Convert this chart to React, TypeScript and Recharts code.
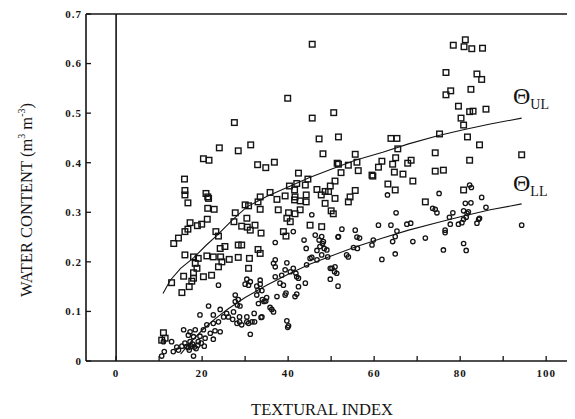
import React from 'react';
import { ScatterChart, Scatter, XAxis, YAxis, ReferenceLine } from 'recharts';

// upper limit (squares) as [textural index, water content]
const upperPoints: [number, number][] = [
  [45.6, 0.639], [39.9, 0.53], [45.6, 0.49], [50.6, 0.501], [27.5, 0.481], [47.2, 0.448], [51.7, 0.452],
  [48.1, 0.418], [24.0, 0.43], [28.4, 0.424], [31.3, 0.436], [20.3, 0.408], [21.6, 0.405], [32.9, 0.396],
  [34.8, 0.39], [36.8, 0.401], [15.9, 0.367], [16.0, 0.344], [16.0, 0.335], [16.7, 0.319], [20.9, 0.338],
  [21.3, 0.331], [42.4, 0.379], [51.4, 0.399], [52.3, 0.38], [44.6, 0.367], [42.0, 0.358], [44.0, 0.355],
  [40.3, 0.353], [46.7, 0.346], [49.8, 0.353], [50.9, 0.363], [49.4, 0.342], [54.0, 0.395], [33.5, 0.331],
  [35.8, 0.34], [41.6, 0.331], [44.2, 0.335],
  [78.4, 0.637], [81.2, 0.648], [80.9, 0.634], [82.7, 0.63], [85.2, 0.631], [76.7, 0.582], [83.9, 0.579],
  [85.0, 0.568], [82.5, 0.548], [77.8, 0.545], [76.7, 0.537], [79.6, 0.514], [82.2, 0.503], [83.0, 0.504],
  [86.0, 0.508], [80.2, 0.49], [80.8, 0.476], [75.2, 0.458], [81.7, 0.452], [84.5, 0.436], [94.3, 0.416],
  [74.2, 0.42], [82.2, 0.405], [63.9, 0.449], [65.3, 0.449], [65.5, 0.428], [55.6, 0.417], [56.0, 0.401],
  [56.3, 0.384], [51.7, 0.397], [61.8, 0.403], [61.0, 0.391], [59.5, 0.375], [65.0, 0.41], [64.3, 0.397],
  [64.7, 0.381], [66.7, 0.377], [68.6, 0.405], [67.8, 0.399], [69.0, 0.363], [74.2, 0.383], [76.1, 0.385],
  [63.2, 0.357], [64.9, 0.345], [55.6, 0.344], [80.8, 0.345], [54.0, 0.321], [54.4, 0.331], [71.9, 0.321],
  [59.7, 0.373],
  [21.5, 0.328], [21.3, 0.308], [22.8, 0.306], [21.2, 0.286], [19.9, 0.276], [18.9, 0.273], [17.2, 0.279],
  [16.7, 0.266], [16.0, 0.261], [14.5, 0.248], [13.4, 0.237], [23.2, 0.261], [23.8, 0.252], [27.7, 0.299],
  [27.4, 0.281], [30.0, 0.315], [29.2, 0.272], [30.5, 0.27], [30.4, 0.288], [28.4, 0.234], [29.2, 0.234],
  [25.3, 0.231], [24.2, 0.227], [16.0, 0.214], [18.0, 0.21], [19.1, 0.207], [21.1, 0.212], [22.6, 0.21],
  [24.3, 0.21], [26.3, 0.205], [28.4, 0.209], [24.6, 0.2], [23.8, 0.19], [18.4, 0.197], [18.8, 0.187],
  [15.7, 0.171], [18.0, 0.167], [20.3, 0.17], [22.2, 0.173], [31.0, 0.207], [30.8, 0.187],
  [12.9, 0.158], [15.3, 0.138], [18.0, 0.178], [17.6, 0.161], [17.0, 0.15], [11.0, 0.057], [10.6, 0.042],
  [11.4, 0.046],
  [41.5, 0.345], [48.6, 0.342], [33.0, 0.321], [33.5, 0.306], [30.8, 0.313], [37.4, 0.326], [37.7, 0.305],
  [39.3, 0.333], [41.5, 0.325], [42.8, 0.323], [44.2, 0.321], [42.8, 0.305], [41.6, 0.297], [40.1, 0.299],
  [39.7, 0.288], [40.5, 0.281], [47.7, 0.335], [50.9, 0.328], [48.6, 0.318], [50.0, 0.303], [50.5, 0.297],
  [32.3, 0.274], [31.2, 0.264], [45.1, 0.274], [47.8, 0.271], [39.5, 0.252], [33.7, 0.258], [38.9, 0.261],
  [33.0, 0.225], [33.5, 0.217],
];

// lower limit (circles)
const lowerPoints: [number, number][] = [
  [23.8, 0.153], [21.5, 0.111], [19.5, 0.093], [24.2, 0.104], [27.7, 0.133], [28.4, 0.124], [28.2, 0.113],
  [27.3, 0.099], [25.7, 0.096], [23.8, 0.079], [22.6, 0.076], [21.1, 0.073], [20.3, 0.063], [18.4, 0.063],
  [17.2, 0.059], [15.7, 0.063], [16.8, 0.052], [18.0, 0.049], [19.5, 0.05], [20.7, 0.046], [21.9, 0.056],
  [23.0, 0.061], [24.2, 0.059], [22.6, 0.044], [19.1, 0.039], [17.2, 0.039], [16.0, 0.036], [15.3, 0.03],
  [16.4, 0.029], [14.1, 0.028], [14.5, 0.022], [13.3, 0.019], [12.9, 0.039], [11.0, 0.039], [11.2, 0.019],
  [10.6, 0.01], [18.0, 0.01], [28.7, 0.079], [29.2, 0.073], [30.4, 0.079], [30.0, 0.155], [22.6, 0.093],
  [25.0, 0.089], [27.1, 0.084],
  [16.8, 0.027], [17.5, 0.03], [18.2, 0.028], [17.8, 0.034], [19.0, 0.032], [18.6, 0.025], [17.0, 0.022],
  [19.8, 0.036], [20.5, 0.03],
  [26.1, 0.089], [28.1, 0.076], [28.7, 0.089], [30.4, 0.089], [31.6, 0.079], [32.1, 0.096], [33.9, 0.089],
  [31.2, 0.054], [36.2, 0.104], [36.6, 0.099], [39.7, 0.081], [40.1, 0.071], [27.7, 0.12], [28.8, 0.111],
  [30.4, 0.165], [30.8, 0.153], [32.7, 0.151], [33.5, 0.163], [33.9, 0.142], [32.7, 0.133], [35.0, 0.128],
  [34.4, 0.12], [37.4, 0.13], [39.3, 0.133], [38.1, 0.157], [38.9, 0.153], [37.0, 0.17], [38.5, 0.173],
  [39.3, 0.184], [41.2, 0.187], [42.0, 0.17], [42.4, 0.15], [44.0, 0.157], [41.6, 0.13], [42.0, 0.135],
  [37.0, 0.19], [36.6, 0.197], [37.0, 0.204], [39.7, 0.198], [40.5, 0.18], [37.0, 0.239], [41.2, 0.261],
  [43.7, 0.244], [44.2, 0.227], [45.5, 0.209], [46.7, 0.204], [45.5, 0.295], [47.8, 0.251], [48.2, 0.241],
  [49.8, 0.187], [50.9, 0.19], [49.8, 0.165], [51.6, 0.151], [52.5, 0.266], [53.6, 0.214],
  [31.2, 0.16], [33.5, 0.155], [33.0, 0.143], [34.0, 0.124], [34.8, 0.121], [33.1, 0.116], [39.5, 0.137],
  [41.8, 0.177], [42.4, 0.167], [44.3, 0.194], [45.1, 0.207], [46.7, 0.223], [47.4, 0.231], [47.8, 0.214],
  [49.2, 0.21], [46.3, 0.254], [47.2, 0.244], [48.0, 0.237], [48.4, 0.227], [49.0, 0.224], [50.2, 0.187],
  [50.8, 0.18], [51.3, 0.177], [51.6, 0.25], [54.0, 0.21], [33.7, 0.088], [35.8, 0.108], [39.9, 0.068],
  [30.8, 0.076], [32.2, 0.079],
  [75.1, 0.338], [63.1, 0.335], [65.1, 0.299], [74.2, 0.306], [74.6, 0.299], [78.3, 0.299], [77.5, 0.29],
  [80.8, 0.303], [81.2, 0.318], [82.5, 0.319], [82.2, 0.355], [82.6, 0.35], [85.0, 0.33], [86.0, 0.31],
  [81.6, 0.298], [80.8, 0.286], [79.6, 0.276], [80.4, 0.279], [83.9, 0.278], [84.5, 0.288], [81.4, 0.29],
  [81.9, 0.301], [76.5, 0.264], [76.5, 0.259], [76.1, 0.224], [80.8, 0.237], [81.4, 0.223], [71.9, 0.248],
  [69.0, 0.241], [67.6, 0.276], [68.5, 0.278], [65.3, 0.262], [64.9, 0.251], [64.3, 0.241], [64.9, 0.216],
  [61.8, 0.205], [63.9, 0.274], [61.0, 0.274], [59.5, 0.234], [59.8, 0.244], [56.0, 0.25], [55.6, 0.264],
  [56.6, 0.248], [56.1, 0.227], [55.2, 0.229], [73.6, 0.308], [77.7, 0.276], [94.3, 0.274], [84.3, 0.286],
  [51.7, 0.251],
];

// fitted curves
const upperCurve: [number, number][] = [
  [10.9, 0.136], [12.6, 0.163], [15, 0.187], [18, 0.208], [21, 0.234], [23.4, 0.253], [27, 0.284],
  [30.4, 0.311], [35, 0.332], [40, 0.351], [45, 0.37], [50, 0.387], [55.6, 0.405], [62, 0.421],
  [68, 0.438], [75, 0.455], [81, 0.467], [87, 0.478], [94.3, 0.49],
];
const lowerCurve: [number, number][] = [
  [15, 0.014], [17, 0.035], [20, 0.062], [23, 0.085], [26, 0.105], [30, 0.128], [35, 0.153], [40, 0.175],
  [45, 0.195], [50, 0.212], [55.6, 0.23], [62, 0.248], [68, 0.264], [75, 0.28], [81, 0.293], [87, 0.305],
  [94.3, 0.317],
];

const xTicks = [0, 10, 20, 30, 40, 50, 60, 70, 80, 90, 100];
const yTicks = [0, 0.1, 0.2, 0.3, 0.4, 0.5, 0.6, 0.7];

const toXY = (pts: [number, number][]) => pts.map(([x, y]) => ({ x, y }));

const INK = '#141414';
const tickFont = { fill: INK, fontSize: 11, fontWeight: 'bold', fontFamily: 'Liberation Serif', letterSpacing: 1 };

const Square = (props: any) => (
  <rect x={props.cx - 2.8} y={props.cy - 2.8} width={5.6} height={5.6} fill="none" stroke={INK} strokeWidth={1.4} />
);
const Ring = (props: any) => <circle cx={props.cx} cy={props.cy} r={2.2} fill="none" stroke={INK} strokeWidth={1.3} />;
const NoDot = () => <g />;

export default function App() {
  return (
    <div style={{ position: 'relative', width: 567, height: 411 }}>
      <ScatterChart width={567} height={411} margin={{ top: 6, right: 0, bottom: 0, left: 0 }}>
        <XAxis
          type="number"
          dataKey="x"
          domain={[-7, 106.7]}
          ticks={xTicks}
          tickFormatter={(v: number) => (v % 20 === 0 ? String(v) : '')}
          tickSize={-5}
          tickMargin={13}
          height={58}
          allowDataOverflow
          axisLine={{ stroke: INK, strokeWidth: 1.6 }}
          tickLine={{ stroke: INK, strokeWidth: 1.3 }}
          tick={tickFont}
        />
        <YAxis
          type="number"
          dataKey="y"
          domain={[0, 0.7]}
          ticks={yTicks}
          tickFormatter={(v: number) => (v === 0 ? '0' : v.toFixed(1))}
          tickSize={-5}
          tickMargin={9}
          width={78}
          allowDataOverflow
          axisLine={{ stroke: INK, strokeWidth: 1.6 }}
          tickLine={{ stroke: INK, strokeWidth: 1.3 }}
          tick={tickFont}
        />
        <ReferenceLine y={0.7} stroke={INK} strokeWidth={1.6} />
        <ReferenceLine x={0} stroke={INK} strokeWidth={1.6} />
        <Scatter data={toXY(upperPoints)} shape={Square} isAnimationActive={false} />
        <Scatter data={toXY(lowerPoints)} shape={Ring} isAnimationActive={false} />
        <Scatter
          data={toXY(upperCurve)}
          line={{ stroke: INK, strokeWidth: 1.1 }}
          lineType="joint"
          shape={NoDot}
          isAnimationActive={false}
        />
        <Scatter
          data={toXY(lowerCurve)}
          line={{ stroke: INK, strokeWidth: 1.1 }}
          lineType="joint"
          shape={NoDot}
          isAnimationActive={false}
        />
      </ScatterChart>
      <svg
        width={567}
        height={411}
        style={{ position: 'absolute', left: 0, top: 0, pointerEvents: 'none' }}
        fontFamily="Liberation Serif"
        fill={INK}
      >
        <text x={505} y={96} fontSize={24}>
          Θ<tspan fontSize={14} dy={5}>UL</tspan>
        </text>
        <text x={505} y={183} fontSize={24}>
          Θ<tspan fontSize={14} dy={5}>LL</tspan>
        </text>
        <text x={314} y={407} fontSize={16.5} textAnchor="middle">TEXTURAL INDEX</text>
        <text x={24} y={192} fontSize={16.5} textAnchor="middle" transform="rotate(-90 24 192)">
          WATER CONTENT (m<tspan fontSize={10} dy={-7}>3</tspan>
          <tspan dy={7}> m</tspan>
          <tspan fontSize={10} dy={-7}>-3</tspan>
          <tspan dy={7}>)</tspan>
        </text>
      </svg>
    </div>
  );
}
